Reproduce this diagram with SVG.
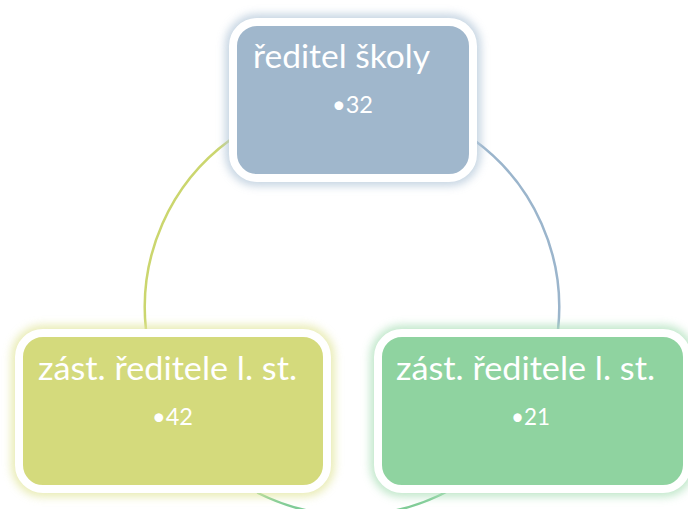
<svg xmlns="http://www.w3.org/2000/svg" width="688" height="509" viewBox="0 0 688 509">
<defs>
<filter id="glow" x="-20%" y="-20%" width="140%" height="140%">
<feGaussianBlur stdDeviation="4"/>
</filter>
</defs>
<style>
.conn{fill:none;stroke-width:2.5;stroke-linecap:round}
.box{stroke:#ffffff;stroke-width:8}
.halo{fill:none;stroke-width:16;opacity:0.75}
.t1{font-family:"Lato","Noto Sans",sans-serif;font-size:32px;fill:#ffffff}
.t2{font-family:"Lato","Noto Sans",sans-serif;font-size:24px;fill:#ffffff}
</style>
<rect width="688" height="509" fill="#ffffff"/>
<g id="connectors">
<path class="conn" stroke="#cbd66e" d="M 230 140 A 207 207 0 0 0 146 330"/>
<path class="conn" stroke="#9bb5cc" d="M 474 140 A 207 207 0 0 1 558 330"/>
<path class="conn" stroke="#80cc97" d="M 450 490 A 207 207 0 0 1 258 493"/>
</g>
<g id="node-top">
<rect class="halo" stroke="#b4c7d9" x="233" y="22" width="240" height="156" rx="24" filter="url(#glow)"/>
<rect class="box" fill="#a0b7cc" x="233" y="22" width="240" height="156" rx="24"/>
<text class="t1" x="253" y="68" textLength="177" lengthAdjust="spacingAndGlyphs">ředitel školy</text>
<text class="t2" x="332" y="113" textLength="41" lengthAdjust="spacingAndGlyphs">•32</text>
</g>
<g id="node-left">
<rect class="halo" stroke="#e2e69e" x="19" y="333" width="308" height="156" rx="24" filter="url(#glow)"/>
<rect class="box" fill="#d4da7c" x="19" y="333" width="308" height="156" rx="24"/>
<text class="t1" x="38" y="380" textLength="259" lengthAdjust="spacingAndGlyphs">zást. ředitele l. st.</text>
<text class="t2" x="152" y="425" textLength="41" lengthAdjust="spacingAndGlyphs">•42</text>
</g>
<g id="node-right">
<rect class="halo" stroke="#ade0ba" x="378" y="333" width="309" height="156" rx="24" filter="url(#glow)"/>
<rect class="box" fill="#8fd3a0" x="378" y="333" width="309" height="156" rx="24"/>
<text class="t1" x="396" y="380" textLength="259" lengthAdjust="spacingAndGlyphs">zást. ředitele l. st.</text>
<text class="t2" x="511" y="425" textLength="39" lengthAdjust="spacingAndGlyphs">•21</text>
</g>
</svg>
